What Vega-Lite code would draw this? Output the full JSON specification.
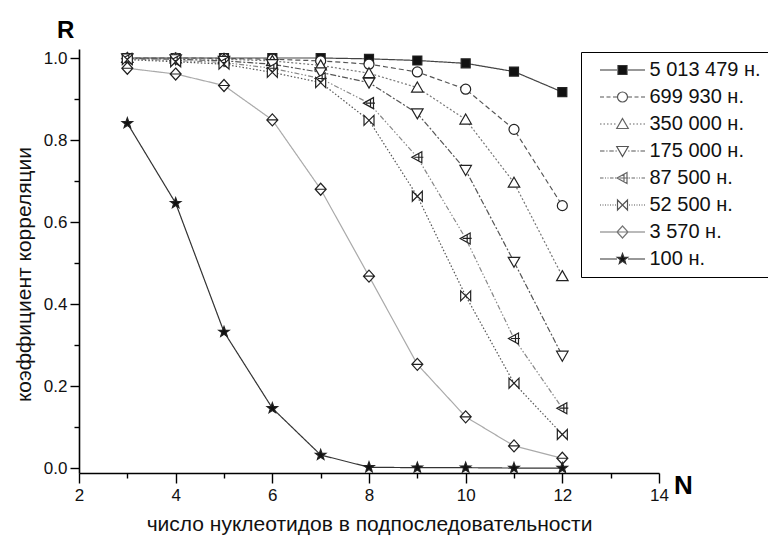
{
  "$schema": "https://vega.github.io/schema/vega-lite/v6.json",
  "width": 580,
  "height": 424,
  "autosize": {"type": "none"},
  "padding": {"left": 79, "top": 49, "right": 109, "bottom": 63},
  "background": "white",
  "config": {
    "font": "Liberation Sans",
    "view": {"stroke": null},
    "axis": {
      "grid": false,
      "domainColor": "#000",
      "domainWidth": 1.6,
      "tickColor": "#000",
      "tickWidth": 1.4,
      "labelFont": "Liberation Sans",
      "labelFontSize": 17,
      "labelColor": "#111",
      "labelFlush": false,
      "labelOverlap": false,
      "titleFont": "Liberation Sans",
      "titleFontSize": 21,
      "titleFontWeight": "normal",
      "titleColor": "#111"
    },
    "legend": {
      "orient": "none",
      "legendX": 502,
      "legendY": 3,
      "strokeColor": "#000000",
      "fillColor": "#ffffff",
      "padding": 8,
      "symbolSize": 100,
      "symbolStrokeWidth": 1.2,
      "symbolOpacity": 1,
      "symbolOffset": 23.5,
      "labelOffset": 17,
      "labelFont": "Liberation Sans",
      "labelFontSize": 20,
      "labelColor": "#111111",
      "labelLimit": 300,
      "rowPadding": 7
    }
  },
  "title": {
    "text": "R",
    "anchor": "start",
    "frame": "group",
    "font": "Liberation Sans",
    "fontSize": 24,
    "fontWeight": "bold",
    "color": "#000",
    "dx": -22,
    "dy": 26,
    "offset": 13,
    "baseline": "alphabetic"
  },
  "data": {
    "values": [
      {"s": "5 013 479 н.", "n": 3, "r": 1.0},
      {"s": "5 013 479 н.", "n": 4, "r": 1.0},
      {"s": "5 013 479 н.", "n": 5, "r": 1.0},
      {"s": "5 013 479 н.", "n": 6, "r": 1.0},
      {"s": "5 013 479 н.", "n": 7, "r": 1.0},
      {"s": "5 013 479 н.", "n": 8, "r": 0.998},
      {"s": "5 013 479 н.", "n": 9, "r": 0.994},
      {"s": "5 013 479 н.", "n": 10, "r": 0.987},
      {"s": "5 013 479 н.", "n": 11, "r": 0.967},
      {"s": "5 013 479 н.", "n": 12, "r": 0.917},
      {"s": "699 930 н.", "n": 3, "r": 1.0},
      {"s": "699 930 н.", "n": 4, "r": 1.0},
      {"s": "699 930 н.", "n": 5, "r": 0.999},
      {"s": "699 930 н.", "n": 6, "r": 0.997},
      {"s": "699 930 н.", "n": 7, "r": 0.993},
      {"s": "699 930 н.", "n": 8, "r": 0.985},
      {"s": "699 930 н.", "n": 9, "r": 0.966},
      {"s": "699 930 н.", "n": 10, "r": 0.924},
      {"s": "699 930 н.", "n": 11, "r": 0.826},
      {"s": "699 930 н.", "n": 12, "r": 0.64},
      {"s": "350 000 н.", "n": 3, "r": 1.0},
      {"s": "350 000 н.", "n": 4, "r": 0.999},
      {"s": "350 000 н.", "n": 5, "r": 0.997},
      {"s": "350 000 н.", "n": 6, "r": 0.993},
      {"s": "350 000 н.", "n": 7, "r": 0.982},
      {"s": "350 000 н.", "n": 8, "r": 0.963},
      {"s": "350 000 н.", "n": 9, "r": 0.928},
      {"s": "350 000 н.", "n": 10, "r": 0.85},
      {"s": "350 000 н.", "n": 11, "r": 0.696},
      {"s": "350 000 н.", "n": 12, "r": 0.468},
      {"s": "175 000 н.", "n": 3, "r": 0.999},
      {"s": "175 000 н.", "n": 4, "r": 0.997},
      {"s": "175 000 н.", "n": 5, "r": 0.993},
      {"s": "175 000 н.", "n": 6, "r": 0.985},
      {"s": "175 000 н.", "n": 7, "r": 0.965},
      {"s": "175 000 н.", "n": 8, "r": 0.94},
      {"s": "175 000 н.", "n": 9, "r": 0.865},
      {"s": "175 000 н.", "n": 10, "r": 0.727},
      {"s": "175 000 н.", "n": 11, "r": 0.503},
      {"s": "175 000 н.", "n": 12, "r": 0.274},
      {"s": "87 500 н.", "n": 3, "r": 0.998},
      {"s": "87 500 н.", "n": 4, "r": 0.994},
      {"s": "87 500 н.", "n": 5, "r": 0.989},
      {"s": "87 500 н.", "n": 6, "r": 0.975},
      {"s": "87 500 н.", "n": 7, "r": 0.95},
      {"s": "87 500 н.", "n": 8, "r": 0.89},
      {"s": "87 500 н.", "n": 9, "r": 0.758},
      {"s": "87 500 н.", "n": 10, "r": 0.56},
      {"s": "87 500 н.", "n": 11, "r": 0.316},
      {"s": "87 500 н.", "n": 12, "r": 0.146},
      {"s": "52 500 н.", "n": 3, "r": 0.996},
      {"s": "52 500 н.", "n": 4, "r": 0.991},
      {"s": "52 500 н.", "n": 5, "r": 0.985},
      {"s": "52 500 н.", "n": 6, "r": 0.965},
      {"s": "52 500 н.", "n": 7, "r": 0.94},
      {"s": "52 500 н.", "n": 8, "r": 0.848},
      {"s": "52 500 н.", "n": 9, "r": 0.663},
      {"s": "52 500 н.", "n": 10, "r": 0.42},
      {"s": "52 500 н.", "n": 11, "r": 0.207},
      {"s": "52 500 н.", "n": 12, "r": 0.082},
      {"s": "3 570 н.", "n": 3, "r": 0.975},
      {"s": "3 570 н.", "n": 4, "r": 0.961},
      {"s": "3 570 н.", "n": 5, "r": 0.933},
      {"s": "3 570 н.", "n": 6, "r": 0.849},
      {"s": "3 570 н.", "n": 7, "r": 0.68},
      {"s": "3 570 н.", "n": 8, "r": 0.468},
      {"s": "3 570 н.", "n": 9, "r": 0.253},
      {"s": "3 570 н.", "n": 10, "r": 0.125},
      {"s": "3 570 н.", "n": 11, "r": 0.054},
      {"s": "3 570 н.", "n": 12, "r": 0.024},
      {"s": "100 н.", "n": 3, "r": 0.841},
      {"s": "100 н.", "n": 4, "r": 0.646},
      {"s": "100 н.", "n": 5, "r": 0.332},
      {"s": "100 н.", "n": 6, "r": 0.146},
      {"s": "100 н.", "n": 7, "r": 0.032},
      {"s": "100 н.", "n": 8, "r": 0.002},
      {"s": "100 н.", "n": 9, "r": 0.001},
      {"s": "100 н.", "n": 10, "r": 0.001},
      {"s": "100 н.", "n": 11, "r": 0.0},
      {"s": "100 н.", "n": 12, "r": 0.0}
    ]
  },
  "layer": [
    {
      "mark": {"type": "line", "strokeWidth": 1.2},
      "encoding": {
        "x": {
          "field": "n",
          "type": "quantitative",
          "scale": {"domain": [2, 14], "nice": false, "zero": false},
          "axis": {
            "values": [2, 3, 4, 5, 6, 7, 8, 9, 10, 11, 12, 13, 14],
            "labelExpr": "datum.value % 2 === 0 ? datum.label : ''",
            "tickSize": {"condition": {"test": "datum.value % 2 === 1", "value": 5}, "value": 10},
            "labelPadding": 4,
            "title": "число нуклеотидов в подпоследовательности",
            "titlePadding": 10
          }
        },
        "y": {
          "field": "r",
          "type": "quantitative",
          "scale": {"domain": [-0.012, 1.022], "nice": false, "zero": false},
          "axis": {
            "values": [0, 0.1, 0.2, 0.3, 0.4, 0.5, 0.6, 0.7, 0.8, 0.9, 1.0],
            "labelExpr": "round(datum.value * 10) % 2 === 0 ? format(datum.value, '.1f') : ''",
            "tickSize": {"condition": {"test": "round(datum.value * 10) % 2 === 1", "value": 5}, "value": 9},
            "labelPadding": 3,
            "title": "коэффициент корреляции",
            "titlePadding": 9,
            "titleY": 225
          }
        },
        "detail": {"field": "s", "type": "nominal"},
        "stroke": {
          "field": "s",
          "type": "nominal",
          "scale": {
            "domain": ["5 013 479 н.", "699 930 н.", "350 000 н.", "175 000 н.", "87 500 н.", "52 500 н.", "3 570 н.", "100 н."],
            "range": ["#444444", "#555555", "#777777", "#555555", "#888888", "#555555", "#aaaaaa", "#333333"]
          },
          "legend": null
        },
        "strokeDash": {
          "field": "s",
          "type": "nominal",
          "scale": {
            "domain": ["5 013 479 н.", "699 930 н.", "350 000 н.", "175 000 н.", "87 500 н.", "52 500 н.", "3 570 н.", "100 н."],
            "range": [[1, 0], [5, 3], [2, 2], [6, 2, 2, 2], [5, 2, 1.5, 2, 1.5, 2], [1.5, 2], [1, 0], [1, 0]]
          },
          "legend": null
        }
      }
    },
    {
      "mark": {"type": "point", "size": 100, "strokeWidth": 1.2, "stroke": "#222222", "opacity": 1},
      "encoding": {
        "x": {"field": "n", "type": "quantitative"},
        "y": {"field": "r", "type": "quantitative"},
        "shape": {
          "field": "s",
          "type": "nominal",
          "scale": {
            "domain": ["5 013 479 н.", "699 930 н.", "350 000 н.", "175 000 н.", "87 500 н.", "52 500 н.", "3 570 н.", "100 н."],
            "range": [
              "M-0.9,-0.9H0.9V0.9H-0.9Z",
              "M-1,0A1,1,0,1,1,1,0A1,1,0,1,1,-1,0Z",
              "M0,-1.1L1.15,0.9H-1.15Z",
              "M0,1.1L1.15,-0.9H-1.15Z",
              "M-1.1,0L0.9,-1.1V1.1ZM-0.6,0H1.2M0.3,-0.8V0.8",
              "M-1,-1L1,1V-1L-1,1Z",
              "M0,-1.2L1.1,0L0,1.2L-1.1,0ZM-1.1,0H1.1",
              "M0,-1.1L0.2645,-0.364L1.046,-0.34L0.428,0.139L0.647,0.89L0,0.45L-0.647,0.89L-0.428,0.139L-1.046,-0.34L-0.2645,-0.364Z"
            ]
          },
          "legend": null
        },
        "fill": {
          "field": "s",
          "type": "nominal",
          "scale": {
            "domain": ["5 013 479 н.", "699 930 н.", "350 000 н.", "175 000 н.", "87 500 н.", "52 500 н.", "3 570 н.", "100 н."],
            "range": ["#111111", "#ffffff", "#ffffff", "#ffffff", "#ffffff", "#ffffff", "#ffffff", "#111111"]
          },
          "legend": null
        }
      }
    },
    {
      "mark": {"type": "point", "size": 100, "opacity": 0, "strokeWidth": 1.2},
      "encoding": {
        "x": {"field": "n", "type": "quantitative"},
        "y": {"field": "r", "type": "quantitative"},
        "fill": {
          "field": "s",
          "type": "nominal",
          "scale": {
            "domain": ["5 013 479 н.", "699 930 н.", "350 000 н.", "175 000 н.", "87 500 н.", "52 500 н.", "3 570 н.", "100 н."],
            "range": ["#111111", "#ffffff", "#ffffff", "#ffffff", "#ffffff", "#ffffff", "#ffffff", "#111111"]
          },
          "legend": {"title": null}
        },
        "stroke": {
          "field": "s",
          "type": "nominal",
          "scale": {
            "domain": ["5 013 479 н.", "699 930 н.", "350 000 н.", "175 000 н.", "87 500 н.", "52 500 н.", "3 570 н.", "100 н."],
            "range": ["#333333", "#555555", "#666666", "#555555", "#666666", "#555555", "#777777", "#333333"]
          },
          "legend": {"title": null}
        },
        "shape": {
          "field": "s",
          "type": "nominal",
          "scale": {
            "domain": ["5 013 479 н.", "699 930 н.", "350 000 н.", "175 000 н.", "87 500 н.", "52 500 н.", "3 570 н.", "100 н."],
            "range": [
              "M-4.5,0H-1.1M1.1,0H4.5M-0.9,-0.9H0.9V0.9H-0.9Z",
              "M-4.5,0H-3.7M-3.2,0H-2.4M-1.9,0H-1.1M1.1,0H1.9M2.4,0H3.2M3.7,0H4.5M-1,0A1,1,0,1,1,1,0A1,1,0,1,1,-1,0Z",
              "M-4.5,0H-4.2M-3.8,0H-3.5M-3.1,0H-2.8M-2.4,0H-2.1M-1.7,0H-1.4M1.4,0H1.7M2.1,0H2.4M2.8,0H3.1M3.5,0H3.8M4.2,0H4.5M0,-1.1L1.15,0.9H-1.15Z",
              "M-4.5,0H-3.6M-3.25,0H-3M-2.65,0H-1.75M-1.4,0H-1.15M1.15,0H1.4M1.75,0H2.65M3,0H3.25M3.6,0H4.5M0,1.1L1.15,-0.9H-1.15Z",
              "M-4.5,0H-3.8M-3.5,0H-3.3M-3,0H-2.8M-2.5,0H-1.8M-1.5,0H-1.3M1.3,0H1.5M1.8,0H2.5M2.8,0H3M3.3,0H3.5M3.8,0H4.5M-1.1,0L0.9,-1.1V1.1ZM-0.6,0H1.2M0.3,-0.8V0.8",
              "M-4.5,0H-4.3M-4,0H-3.8M-3.5,0H-3.3M-3,0H-2.8M-2.5,0H-2.3M-2,0H-1.8M-1.5,0H-1.3M1.3,0H1.5M1.8,0H2M2.3,0H2.5M2.8,0H3M3.3,0H3.5M3.8,0H4M4.3,0H4.5M-1,-1L1,1V-1L-1,1Z",
              "M-4.5,0H-1.1M1.1,0H4.5M0,-1.2L1.1,0L0,1.2L-1.1,0ZM-1.1,0H1.1",
              "M-4.5,0H-1.1M1.1,0H4.5M0,-1.1L0.2645,-0.364L1.046,-0.34L0.428,0.139L0.647,0.89L0,0.45L-0.647,0.89L-0.428,0.139L-1.046,-0.34L-0.2645,-0.364Z"
            ]
          },
          "legend": {"title": null}
        }
      }
    },
    {
      "data": {"values": [{"label": "N"}]},
      "mark": {"type": "text", "font": "Liberation Sans", "fontSize": 26, "fontWeight": "bold", "align": "left", "baseline": "alphabetic", "dx": 15, "dy": 21, "fill": "#000000", "opacity": 1},
      "encoding": {
        "x": {"datum": 14, "type": "quantitative"},
        "y": {"datum": -0.012, "type": "quantitative"},
        "text": {"field": "label", "type": "nominal"}
      }
    }
  ],
  "resolve": {"scale": {"shape": "independent", "fill": "independent", "stroke": "independent"}}
}
